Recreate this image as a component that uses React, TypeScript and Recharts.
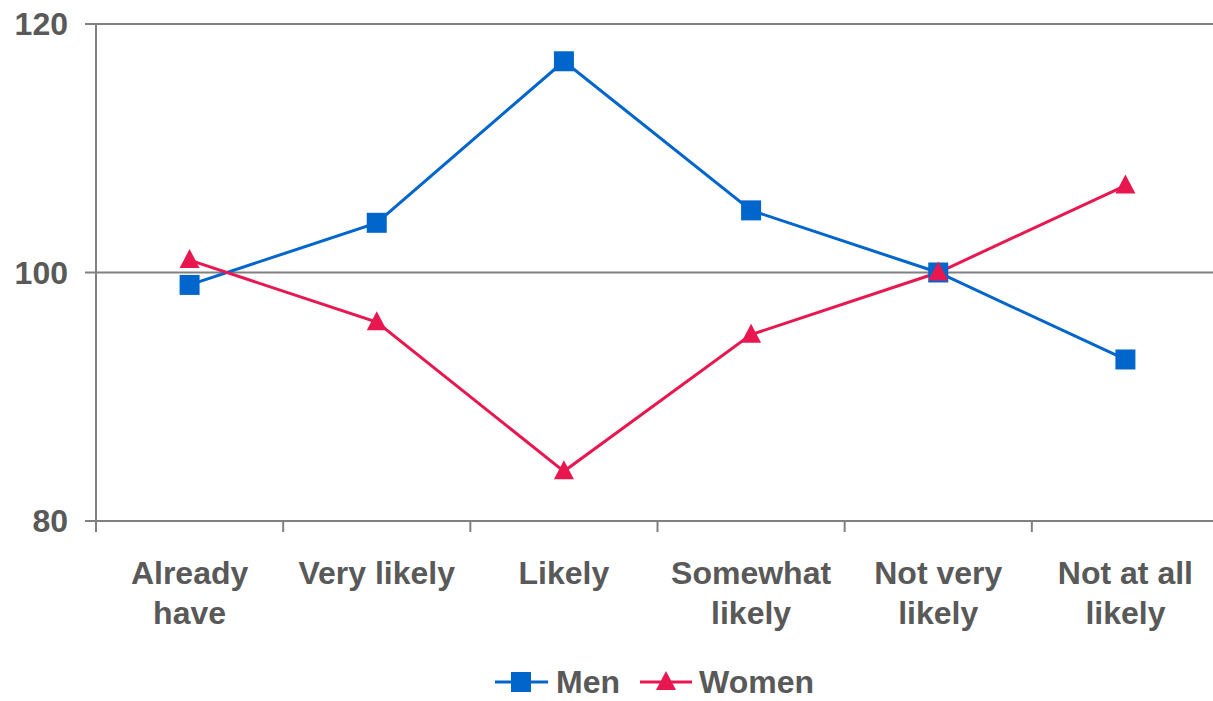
import React from 'react';
import { LineChart, Line, XAxis, YAxis, CartesianGrid, Legend } from 'recharts';

const CATEGORIES = ['Already have', 'Very likely', 'Likely', 'Somewhat likely', 'Not very likely', 'Not at all likely'];
const CATEGORY_LINES = [['Already', 'have'], ['Very likely'], ['Likely'], ['Somewhat', 'likely'], ['Not very', 'likely'], ['Not at all', 'likely']];
const MEN = [99, 104, 117, 105, 100, 93];
const WOMEN = [101, 96, 84, 95, 100, 107];
const Y_TICKS = [80, 100, 120];

const BLUE = '#0066CC';
const RED = '#E8174F';
const GRAY = '#808080';
const TEXT = '#595959';
const FONT = '"Liberation Sans", Arial, sans-serif';

const data = CATEGORIES.map((c, i) => ({ name: c, men: MEN[i], women: WOMEN[i] }));

const SquareDot = (props: any) => {
  const { cx, cy, index } = props;
  if (cx == null || cy == null) return null;
  return <rect key={`sq-${index}`} x={cx - 10} y={cy - 10} width={20} height={20} fill={BLUE} />;
};

const TriangleDot = (props: any) => {
  const { cx, cy, index } = props;
  if (cx == null || cy == null) return null;
  return <polygon key={`tr-${index}`} points={`${cx},${cy - 11} ${cx + 10},${cy + 8} ${cx - 10},${cy + 8}`} fill={RED} />;
};

const CategoryTick = (props: any) => {
  const { x, y, payload, index, width } = props;
  const bw = (width || 1123) / CATEGORIES.length;
  const lines = CATEGORY_LINES[index] || [payload.value];
  return (
    <g>
      <line x1={x - bw / 2} y1={y} x2={x - bw / 2} y2={y + 11} stroke={GRAY} strokeWidth={2} />
      {lines.map((t: string, i: number) => (
        <text key={i} x={x} y={y + 63 + i * 40} textAnchor="middle" fontSize={32} fontWeight="bold" fill={TEXT} fontFamily={FONT}>
          {t}
        </text>
      ))}
    </g>
  );
};

// legend drawn by hand so the markers match the series
const LegendContent = () => (
  <svg width={1213} height={45} style={{ display: 'block' }}>
    <g>
      <line x1={495} y1={26} x2={548} y2={26} stroke={BLUE} strokeWidth={3} />
      <rect x={511} y={16} width={20} height={20} fill={BLUE} />
      <text x={556} y={37} fontSize={32} fontWeight="bold" fill={TEXT} fontFamily={FONT}>Men</text>
      <line x1={640} y1={26} x2={692} y2={26} stroke={RED} strokeWidth={3} />
      <polygon points="666,15 676,34 656,34" fill={RED} />
      <text x={699} y={37} fontSize={32} fontWeight="bold" fill={TEXT} fontFamily={FONT}>Women</text>
    </g>
  </svg>
);

export default function App() {
  return (
    <div style={{ position: 'absolute', left: 0, top: 0, width: 1213, height: 701, background: '#fff', overflow: 'hidden' }}>
      <LineChart width={1219} height={701} data={data} margin={{ top: 24, right: 0, left: 0, bottom: 0 }}>
        <CartesianGrid horizontal vertical={false} stroke={GRAY} strokeWidth={2} />
        <XAxis
          dataKey="name"
          scale="band"
          interval={0}
          height={135}
          axisLine={{ stroke: GRAY, strokeWidth: 2 }}
          tickLine={false}
          tickSize={0}
          tickMargin={0}
          tick={<CategoryTick />}
        />
        <YAxis
          domain={[80, 120]}
          ticks={Y_TICKS}
          width={96}
          axisLine={{ stroke: GRAY, strokeWidth: 2 }}
          tickLine={{ stroke: GRAY, strokeWidth: 2 }}
          tickSize={11}
          tickMargin={17}
          tick={{ fontSize: 32, fontWeight: 'bold', fill: TEXT, fontFamily: FONT }}
        />
        <Legend verticalAlign="bottom" height={45} content={<LegendContent />} />
        <Line type="linear" dataKey="men" name="Men" stroke={BLUE} strokeWidth={3} dot={<SquareDot />} activeDot={false} isAnimationActive={false} />
        <Line type="linear" dataKey="women" name="Women" stroke={RED} strokeWidth={3} dot={<TriangleDot />} activeDot={false} isAnimationActive={false} />
      </LineChart>
    </div>
  );
}
